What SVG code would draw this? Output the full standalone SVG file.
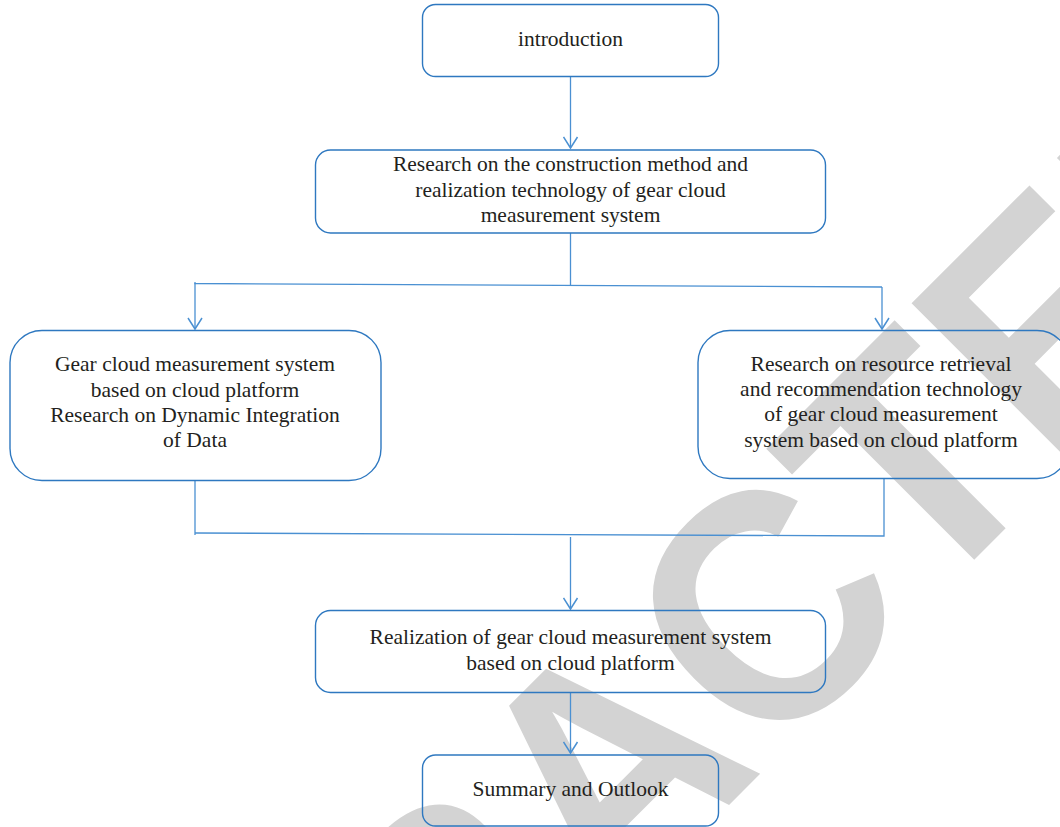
<svg xmlns="http://www.w3.org/2000/svg" width="1060" height="827" viewBox="0 0 1060 827">
  <style>
    .box { fill: none; stroke: #2e78c0; stroke-width: 1.4; }
    .label { font-family: "Liberation Serif", "Times New Roman", serif; font-size: 21.5px; fill: #231f20; text-anchor: middle; }
    .wire { fill: none; stroke: #4a90d2; stroke-width: 1.3; }
    .stamp { font-family: "Liberation Sans", Arial, sans-serif; font-weight: bold; font-size: 328px; fill: #d3d3d3; }
  </style>
  <defs>
    <marker id="arrow" viewBox="-12 -8 14 16" markerWidth="14" markerHeight="16" refX="0" refY="0" markerUnits="userSpaceOnUse" orient="auto">
      <path d="M-11,-7 L0,0 L-11,7" fill="none" stroke="#4a90d2" stroke-width="1.5"/>
    </marker>
  </defs>

  <rect width="1060" height="827" fill="#ffffff"/>

  <!-- diagonal stamp across the page -->
  <text class="stamp" transform="translate(15 1519) rotate(-45) scale(0.94 1)">RETRACTED</text>

  <g id="connectors">
    <line class="wire" x1="570.5" y1="77" x2="570.5" y2="148" marker-end="url(#arrow)"/>
    <line class="wire" x1="570.5" y1="233" x2="570.5" y2="285"/>
    <polyline class="wire" points="195,282 195,283.5 882,287"/>
    <line class="wire" x1="195" y1="283" x2="195" y2="329" marker-end="url(#arrow)"/>
    <line class="wire" x1="882" y1="287" x2="882" y2="329" marker-end="url(#arrow)"/>
    <polyline class="wire" points="195,480 195,535"/>
    <polyline class="wire" points="195,533 884,536 884,478"/>
    <line class="wire" x1="570.5" y1="537" x2="570.5" y2="609" marker-end="url(#arrow)"/>
    <line class="wire" x1="570.5" y1="693" x2="570.5" y2="753" marker-end="url(#arrow)"/>
  </g>

  <g id="introduction">
    <rect class="box" x="422.5" y="4.5" width="296" height="72" rx="13"/>
    <text class="label" x="570.5" y="46">introduction</text>
  </g>

  <g id="construction">
    <rect class="box" x="315.5" y="150" width="510" height="83" rx="15"/>
    <text class="label" x="570.5" y="171">Research on the construction method and</text>
    <text class="label" x="570.5" y="197">realization technology of gear cloud</text>
    <text class="label" x="570.5" y="222">measurement system</text>
  </g>

  <g id="integration">
    <rect class="box" x="10" y="330.5" width="371" height="150" rx="32"/>
    <text class="label" x="195" y="371">Gear cloud measurement system</text>
    <text class="label" x="195" y="397">based on cloud platform</text>
    <text class="label" x="195" y="422">Research on Dynamic Integration</text>
    <text class="label" x="195" y="447">of Data</text>
  </g>

  <g id="retrieval">
    <rect class="box" x="698" y="330.5" width="371" height="148" rx="32"/>
    <text class="label" x="881" y="371">Research on resource retrieval</text>
    <text class="label" x="881" y="396">and recommendation technology</text>
    <text class="label" x="881" y="421">of gear cloud measurement</text>
    <text class="label" x="881" y="447">system based on cloud platform</text>
  </g>

  <g id="realization">
    <rect class="box" x="315.5" y="610.5" width="510" height="82" rx="15"/>
    <text class="label" x="570.5" y="644">Realization of gear cloud measurement system</text>
    <text class="label" x="570.5" y="670">based on cloud platform</text>
  </g>

  <g id="summary">
    <rect class="box" x="422.5" y="755" width="296" height="71" rx="13"/>
    <text class="label" x="570.5" y="796">Summary and Outlook</text>
  </g>
</svg>
